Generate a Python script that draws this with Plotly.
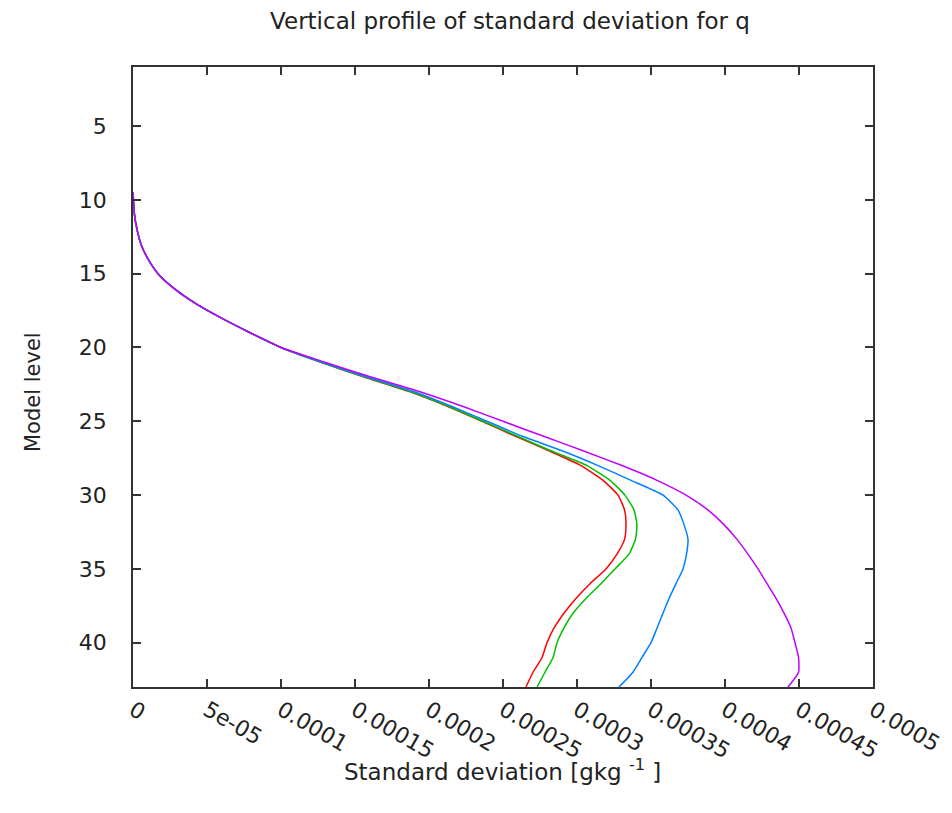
import plotly.graph_objects as go

# Model levels (y) and standard deviation values (x), in units of 1e-5 g/kg
levels = [9.5, 10, 11, 12, 13, 14, 15, 16, 17, 18, 19, 20, 21, 22, 23, 24, 25, 26, 27,
          28, 29, 30, 31, 32, 33, 34, 35, 36, 37, 38, 39, 40, 41, 42, 43]

upper = [0.0, 0.03, 0.10, 0.27, 0.54, 1.01, 1.69, 2.77, 4.19, 5.95, 7.91, 10.00]

red_lower = [12.70, 15.61, 18.72, 21.28, 23.58, 25.81, 28.11, 30.27, 31.76, 32.77, 33.21,
             33.31, 33.21, 32.70, 31.96, 30.88, 29.93, 29.12, 28.45, 27.97, 27.64, 27.03, 26.55]
green_lower = [12.70, 15.68, 18.78, 21.35, 23.65, 25.95, 28.24, 30.68, 32.23, 33.24, 33.85,
               34.05, 33.95, 33.51, 32.57, 31.62, 30.61, 29.73, 29.12, 28.65, 28.38, 27.84, 27.30]
blue_lower = [12.77, 15.81, 18.99, 21.55, 23.92, 26.28, 28.99, 31.42, 33.65, 35.81, 36.82,
              37.23, 37.50, 37.40, 37.16, 36.69, 36.22, 35.81, 35.41, 35.00, 34.39, 33.78, 32.84]
magenta_lower = [12.97, 16.08, 19.39, 22.30, 25.00, 27.70, 30.41, 33.04, 35.41, 37.37, 38.84,
                 39.93, 40.81, 41.55, 42.23, 42.84, 43.45, 43.99, 44.46, 44.73, 44.97, 44.97, 44.26]

series = {
    "red": red_lower,
    "#00c000": green_lower,
    "#0080ff": blue_lower,
    "#c000ff": magenta_lower,
}

x_tickvals = [0, 0.00005, 0.0001, 0.00015, 0.0002, 0.00025, 0.0003, 0.00035, 0.0004, 0.00045, 0.0005]
x_ticktext = ["0", "5e-05", "0.0001", "0.00015", "0.0002", "0.00025", "0.0003",
              "0.00035", "0.0004", "0.00045", "0.0005"]
y_tickvals = [5, 10, 15, 20, 25, 30, 35, 40]

fig = go.Figure()
for color, lower in series.items():
    vals = [v * 1e-5 for v in upper + lower]
    fig.add_trace(go.Scatter(x=vals, y=levels, mode="lines",
                             line=dict(color=color, width=1.5, shape="spline", smoothing=0.5),
                             showlegend=False, hoverinfo="skip"))

font_family = "DejaVu Sans"
txt_color = "#222222"
axis_common = dict(showgrid=False, zeroline=False, showline=True, linecolor="#333333",
                   linewidth=1.5, mirror="allticks", ticks="inside", ticklen=8,
                   tickwidth=1.5, tickcolor="#333333", automargin=False,
                   tickfont=dict(family=font_family, size=22, color=txt_color))

W, H = 952, 813
fig.update_layout(
    width=W, height=H,
    margin=dict(l=133, r=79, t=67, b=126),
    paper_bgcolor="white", plot_bgcolor="white",
    title=dict(text="Vertical profile of standard deviation for q",
               x=0.5 + 7 / 740, xref="paper", xanchor="center", y=1 - 21 / H, yanchor="middle",
               yref="container",
               font=dict(family=font_family, size=23, color=txt_color)),
    annotations=[
        dict(text="Standard deviation [gkg <sup>-1</sup> ]", xref="paper", yref="paper",
             x=0.4995, y=-(770 - 687) / (687 - 67), xanchor="center", yanchor="middle",
             showarrow=False, font=dict(family=font_family, size=23, color=txt_color)),
        dict(text="Model level", xref="paper", yref="paper", textangle=-90,
             x=-(133 - 33) / (873 - 133), y=(687 - 392) / (687 - 67),
             xanchor="center", yanchor="middle",
             showarrow=False, font=dict(family=font_family, size=21, color=txt_color)),
    ],
)
fig.update_xaxes(range=[0, 0.0005], tickvals=x_tickvals, ticktext=x_ticktext, tickangle=30,
                 ticklabelstandoff=0, **axis_common)
fig.update_yaxes(range=[43, 1], tickvals=y_tickvals, ticklabelstandoff=20, **axis_common)

fig.write_html("out.html")
